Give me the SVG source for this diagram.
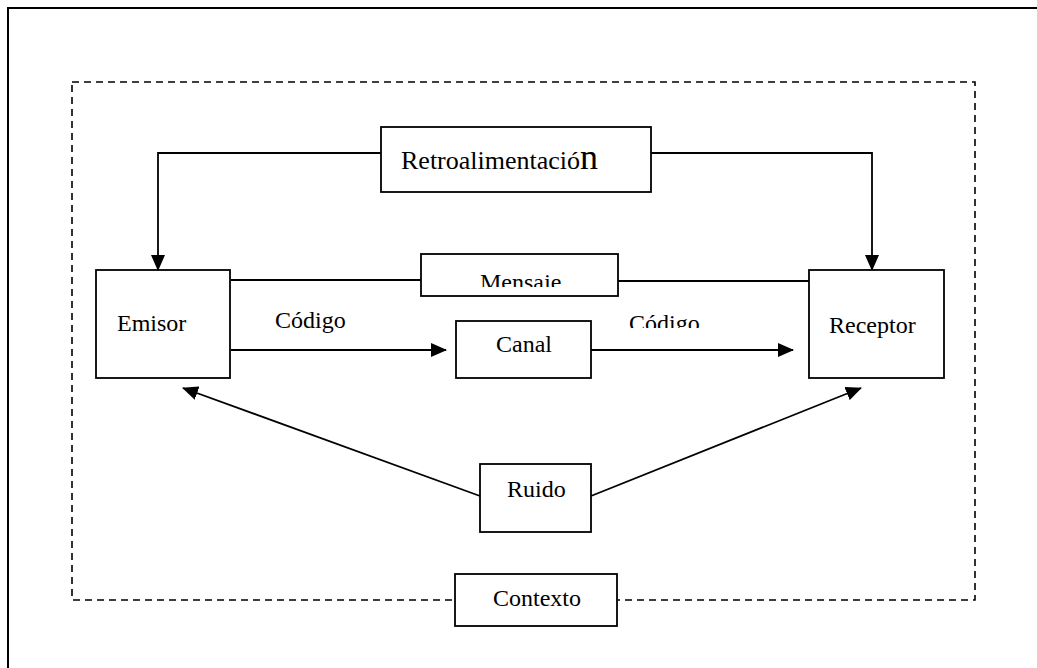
<svg xmlns="http://www.w3.org/2000/svg" width="1037" height="668" viewBox="0 0 1037 668">
<style>
.box{fill:#fff;stroke:#000;stroke-width:1.8}
.ln{fill:none;stroke:#000;stroke-width:1.8}
.t{font-family:"Liberation Serif","Times New Roman",serif;font-size:24px;fill:#000}
</style>
<defs>
<marker id="ah" markerUnits="userSpaceOnUse" markerWidth="16" markerHeight="14" refX="15" refY="7" orient="auto">
<path d="M0,0 L16,7 L0,14 Z" fill="#000"/>
</marker>
<clipPath id="cm"><rect x="420" y="250" width="200" height="37"/></clipPath>
<clipPath id="cc"><rect x="620" y="300" width="100" height="28"/></clipPath>
</defs>
<rect x="0" y="0" width="1037" height="668" fill="#fff"/>
<rect x="8" y="8" width="1100" height="700" fill="none" stroke="#000" stroke-width="2"/>
<rect id="contexto-frame" x="72" y="82" width="903" height="518" fill="none" stroke="#000" stroke-width="1.6" stroke-dasharray="7 5"/>
<g id="connectors">
<polyline class="ln" points="381,153 158,153 158,270" marker-end="url(#ah)"/>
<polyline class="ln" points="651,153 872,153 872,270" marker-end="url(#ah)"/>
<line class="ln" x1="231" y1="280" x2="421" y2="280"/>
<line class="ln" x1="618" y1="281" x2="809" y2="281"/>
<line class="ln" x1="231" y1="350" x2="446" y2="350" marker-end="url(#ah)"/>
<line class="ln" x1="591" y1="350" x2="793" y2="350" marker-end="url(#ah)"/>
<line class="ln" x1="480" y1="496" x2="183" y2="388" marker-end="url(#ah)"/>
<line class="ln" x1="591" y1="496" x2="861" y2="388" marker-end="url(#ah)"/>
<text class="t" x="275" y="328">Código</text>
<text class="t" x="629" y="331" clip-path="url(#cc)">Código</text>
</g>
<g id="retroalimentacion">
<rect class="box" x="381" y="127" width="270" height="65"/>
<text class="t" x="401" y="169" style="font-size:26px">Retroalimentació<tspan style="font-size:36px">n</tspan></text>
</g>
<g id="emisor">
<rect class="box" x="96" y="270" width="134" height="108"/>
<text class="t" x="117" y="331">Emisor</text>
</g>
<g id="mensaje">
<rect class="box" x="421" y="254" width="197" height="42"/>
<text class="t" x="480" y="290" clip-path="url(#cm)">Mensaje</text>
</g>
<g id="canal">
<rect class="box" x="456" y="321" width="135" height="57"/>
<text class="t" x="496" y="352">Canal</text>
</g>
<g id="receptor">
<rect class="box" x="809" y="270" width="135" height="108"/>
<text class="t" x="829" y="333">Receptor</text>
</g>
<g id="ruido">
<rect class="box" x="480" y="464" width="111" height="68"/>
<text class="t" x="507" y="497">Ruido</text>
</g>
<g id="contexto">
<rect class="box" x="455" y="574" width="162" height="52"/>
<text class="t" x="493" y="606">Contexto</text>
</g>
</svg>
